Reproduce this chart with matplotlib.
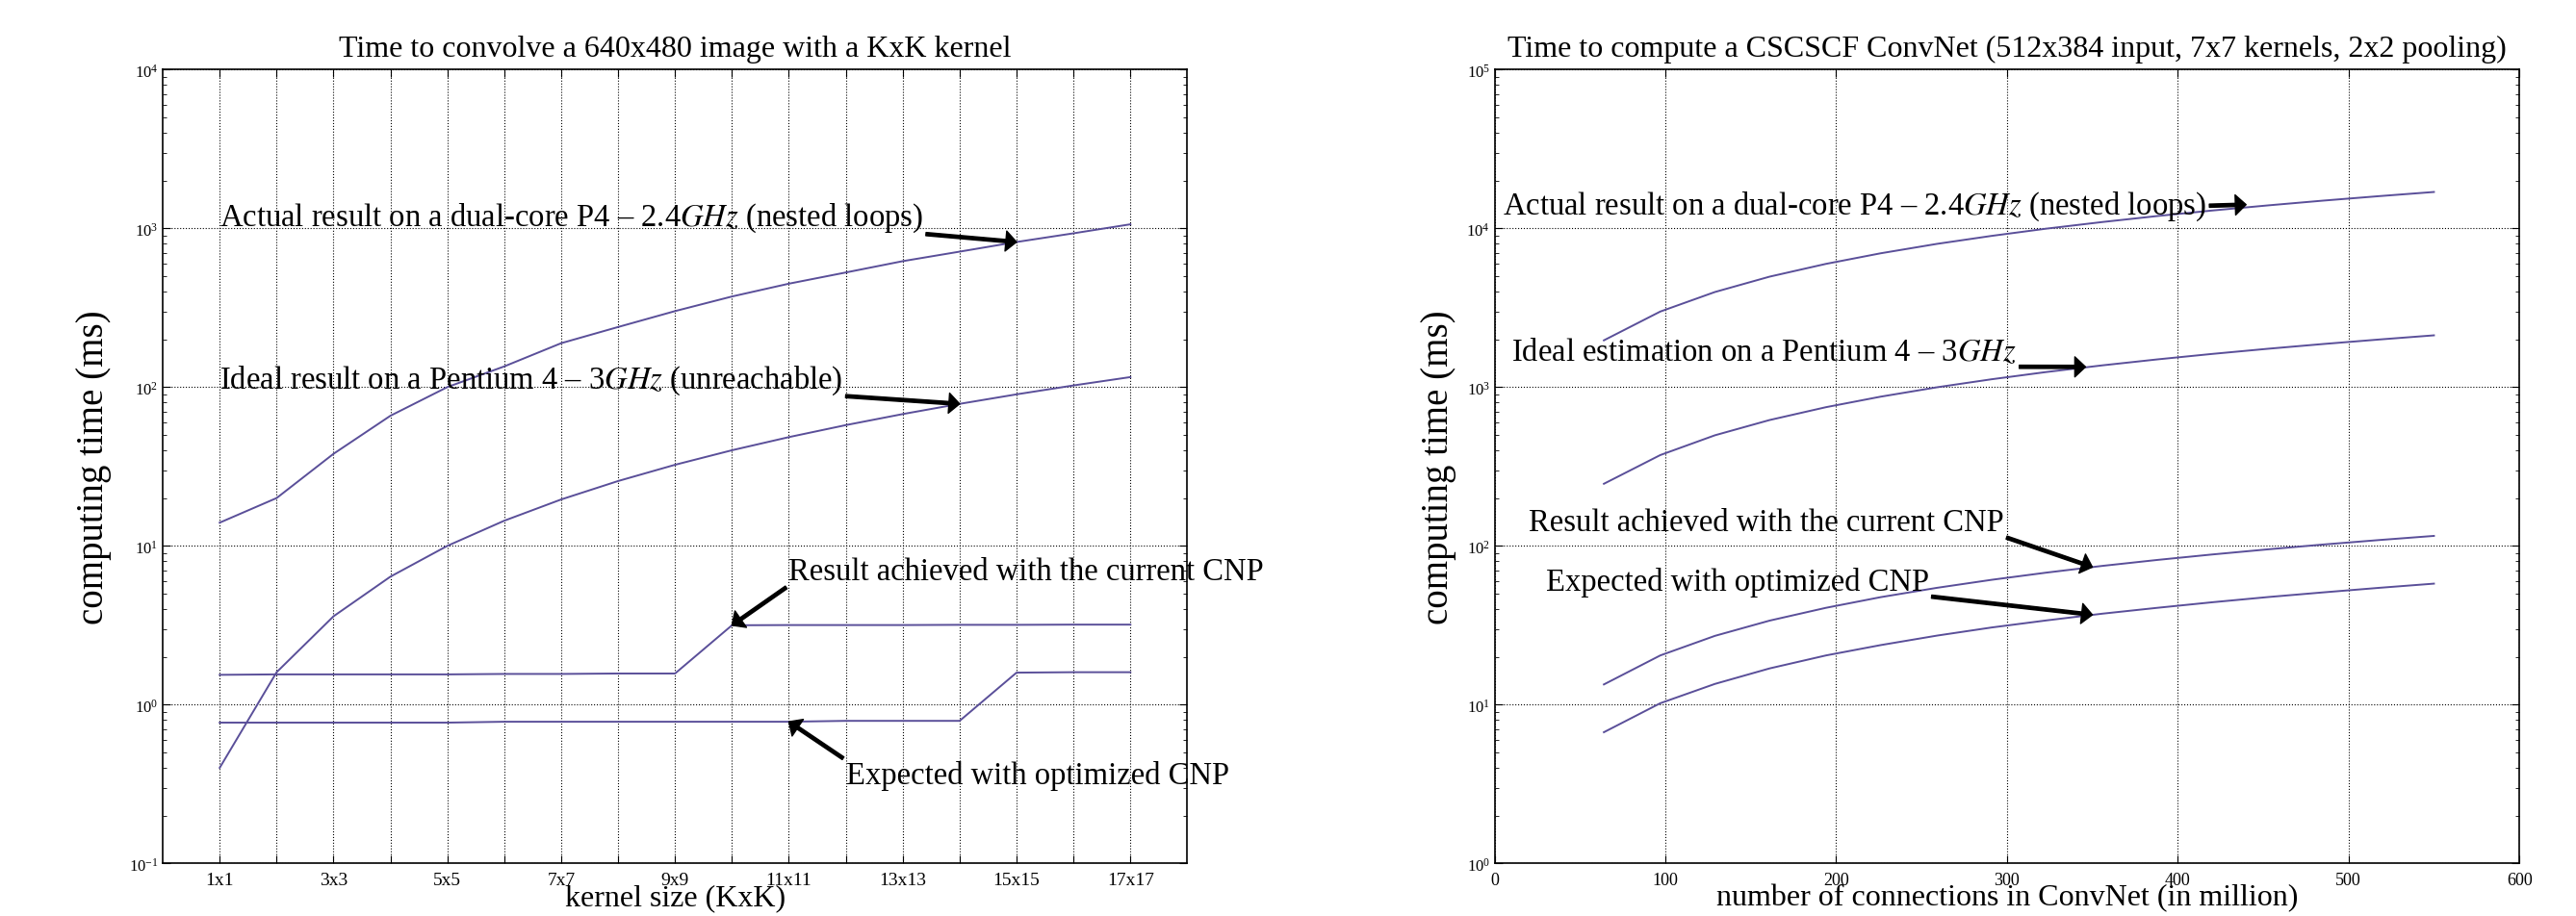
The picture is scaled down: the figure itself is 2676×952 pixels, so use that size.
import matplotlib
matplotlib.use("Agg")
import matplotlib.pyplot as plt

plt.rcParams['font.family'] = ['Liberation Serif', 'DejaVu Serif']
plt.rcParams['mathtext.fontset'] = 'stix'

line_color = '#5a4f99'

# left chart: convolution with a KxK kernel
kernel_k = [1, 2, 3, 4, 5, 6, 7, 8, 9, 10, 11, 12, 13, 14, 15, 16, 17]
kernel_labels = ['1x1', '', '3x3', '', '5x5', '', '7x7', '', '9x9', '',
                 '11x11', '', '13x13', '', '15x15', '', '17x17']
conv_actual = [14, 20, 38, 66, 100, 135, 189, 239, 301, 372, 448, 527,
               621, 713, 820, 930, 1060]
conv_ideal = [0.4, 1.6, 3.6, 6.4, 10, 14.4, 19.6, 25.6, 32.4, 40, 48.4,
              57.6, 67.6, 78.4, 90, 102.4, 115.6]
conv_cnp = [1.54, 1.55, 1.55, 1.55, 1.55, 1.56, 1.56, 1.57, 1.57, 3.16,
            3.17, 3.17, 3.17, 3.18, 3.18, 3.19, 3.19]
conv_opt = [0.77, 0.77, 0.77, 0.77, 0.77, 0.78, 0.78, 0.78, 0.78, 0.78,
            0.78, 0.79, 0.79, 0.79, 1.59, 1.6, 1.6]

# right chart: full ConvNet
connections = [64, 97, 129, 161, 194, 226, 259, 291, 323, 356, 388, 420,
               453, 485, 518, 550]
net_actual = [1970, 2990, 3970, 4960, 5970, 6960, 7980, 8960, 9950, 10960,
              11950, 12940, 13950, 14940, 15950, 16940]
net_ideal = [246, 373, 497, 620, 747, 870, 997, 1120, 1244, 1371, 1494,
             1617, 1744, 1867, 1994, 2118]
net_cnp = [13.4, 20.4, 27.1, 33.8, 40.7, 47.5, 54.4, 61.1, 67.8, 74.8,
           81.5, 88.2, 95.1, 101.9, 108.8, 115.5]
net_opt = [6.7, 10.2, 13.5, 16.9, 20.4, 23.7, 27.2, 30.6, 33.9, 37.4,
           40.7, 44.1, 47.6, 50.9, 54.4, 57.8]

arrow = dict(facecolor='black', edgecolor='black', width=2.4, headwidth=15,
             headlength=8, shrink=0)
txt_size = 23.5


def style_axes(ax):
    ax.set_yscale('log')
    ax.grid(True, which='major', color='black', linestyle=':', linewidth=0.8)
    ax.tick_params(which='both', direction='in', top=True, right=True)
    ax.tick_params(which='major', length=6)
    ax.tick_params(which='minor', length=3)
    ax.tick_params(axis='y', labelsize=12)
    for s in ax.spines.values():
        s.set_linewidth(1.2)


fig = plt.figure(figsize=(26.76, 9.53), dpi=100)

ax1 = fig.add_axes([0.0632, 0.0574, 0.3977, 0.8657])
ax1.plot(kernel_k, conv_actual, color=line_color, lw=1.4)
ax1.plot(kernel_k, conv_ideal, color=line_color, lw=1.4)
ax1.plot(kernel_k, conv_cnp, color=line_color, lw=1.4)
ax1.plot(kernel_k, conv_opt, color=line_color, lw=1.4)
style_axes(ax1)
ax1.set_xlim(0, 18)
ax1.set_ylim(0.1, 1e4)
ax1.set_xticks(kernel_k)
ax1.set_xticklabels(kernel_labels)
ax1.tick_params(axis='x', labelsize=14, pad=6)
ax1.set_title('Time to convolve a 640x480 image with a KxK kernel',
              fontsize=23, pad=10)
ax1.set_xlabel('kernel size (KxK)', fontsize=23)
ax1.set_ylabel('computing time (ms)', fontsize=28)
ax1.xaxis.set_label_coords(0.5, -0.025)
ax1.yaxis.set_label_coords(-0.050, 0.5)

ax1.annotate('Actual result on a dual-core P4 – 2.4$GHz$ (nested loops)',
             xy=(15, conv_actual[14]), xytext=(1, 1050),
             fontsize=txt_size, arrowprops=arrow)
ax1.annotate('Ideal result on a Pentium 4 – 3$GHz$ (unreachable)',
             xy=(14, conv_ideal[13]), xytext=(1, 100),
             fontsize=txt_size, arrowprops=arrow)
ax1.annotate('Result achieved with the current CNP',
             xy=(10, conv_cnp[9]), xytext=(11, 6.2),
             fontsize=txt_size, arrowprops=arrow)
ax1.annotate('Expected with optimized CNP',
             xy=(11, conv_opt[10]), xytext=(12, 0.32),
             fontsize=txt_size, arrowprops=arrow)

ax2 = fig.add_axes([0.5802, 0.0574, 0.3978, 0.8657])
ax2.plot(connections, net_actual, color=line_color, lw=1.4)
ax2.plot(connections, net_ideal, color=line_color, lw=1.4)
ax2.plot(connections, net_cnp, color=line_color, lw=1.4)
ax2.plot(connections, net_opt, color=line_color, lw=1.4)
style_axes(ax2)
ax2.set_xlim(0, 600)
ax2.set_ylim(1, 1e5)
ax2.set_xticks([0, 100, 200, 300, 400, 500, 600])
ax2.tick_params(axis='x', labelsize=13, pad=6)
ax2.set_title('Time to compute a CSCSCF ConvNet (512x384 input, 7x7 kernels, 2x2 pooling)',
              fontsize=23, pad=10)
ax2.set_xlabel('number of connections in ConvNet (in million)', fontsize=23)
ax2.set_ylabel('computing time (ms)', fontsize=28)
ax2.xaxis.set_label_coords(0.5, -0.025)
ax2.yaxis.set_label_coords(-0.037, 0.5)

ax2.annotate('Actual result on a dual-core P4 – 2.4$GHz$ (nested loops)',
             xy=(440, 14100), xytext=(5, 12400),
             fontsize=txt_size, arrowprops=arrow)
ax2.annotate('Ideal estimation on a Pentium 4 – 3$GHz$',
             xy=(346, 1340), xytext=(10, 1480),
             fontsize=txt_size, arrowprops=arrow)
ax2.annotate('Result achieved with the current CNP',
             xy=(350, 73.5), xytext=(20, 126),
             fontsize=txt_size, arrowprops=arrow)
ax2.annotate('Expected with optimized CNP',
             xy=(350, 36.8), xytext=(30, 53),
             fontsize=txt_size, arrowprops=arrow)

fig.savefig('out.png', dpi=100)
